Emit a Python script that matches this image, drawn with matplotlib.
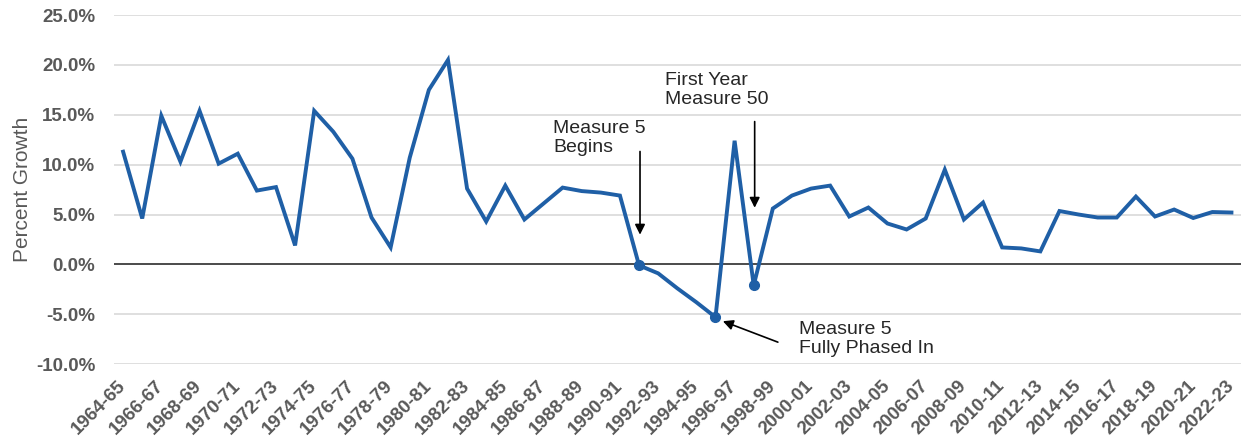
import matplotlib.pyplot as plt

plt.rcParams['font.family'] = ['Liberation Sans', 'DejaVu Sans']

# fiscal years 1964-65 .. 2022-23
years = ["%d-%02d" % (y, (y + 1) % 100) for y in range(1964, 2023)]
growth = [
    11.3, 4.6, 14.9, 10.3, 15.4, 10.1, 11.1, 7.4, 7.75, 1.9,
    15.4, 13.3, 10.6, 4.7, 1.7, 10.7, 17.5, 20.5, 7.6, 4.3,
    7.9, 4.5, 6.1, 7.7, 7.35, 7.2, 6.9, -0.1, -0.9, -2.4,
    -3.8, -5.3, 12.4, -2.1, 5.6, 6.9, 7.6, 7.9, 4.8, 5.7,
    4.1, 3.5, 4.6, 9.5, 4.5, 6.2, 1.7, 1.6, 1.3, 5.35,
    5.0, 4.7, 4.7, 6.8, 4.8, 5.5, 4.65, 5.25, 5.2,
]
marked = ["1991-92", "1995-96", "1997-98"]
yticks = [-10, -5, 0, 5, 10, 15, 20, 25]

blue = '#1F5FA6'
gray = '#595959'

fig = plt.figure(figsize=(12.41, 4.44), dpi=100)
ax = fig.add_axes([0.0915, 0.180, 0.9085, 0.786])

x = list(range(len(years)))
ax.plot(x, growth, color=blue, lw=2.8, solid_joinstyle='miter', zorder=3)
mi = [years.index(m) for m in marked]
ax.plot(mi, [growth[i] for i in mi], 'o', color=blue, ms=7, zorder=4)

ax.set_xlim(-0.5, len(years) - 0.5)
ax.set_ylim(-10, 25)
ax.set_yticks(yticks)
ax.set_yticklabels(["%.1f%%" % v for v in yticks])
ax.set_xticks(x[::2])
ax.set_xticklabels(years[::2], rotation=45, ha='right', va='center',
                   rotation_mode='anchor')
for lab in ax.get_xticklabels() + ax.get_yticklabels():
    lab.set_fontweight('bold')
    lab.set_color(gray)
    lab.set_fontsize(13.5)
ax.tick_params(axis='y', length=0, pad=13)
ax.tick_params(axis='x', length=0, pad=14)

ax.grid(axis='y', color='#D9D9D9', lw=1.2, zorder=0)
ax.axhline(0, color='#404040', lw=1.3, zorder=2)
for s in ax.spines.values():
    s.set_visible(False)

ax.set_ylabel("Percent Growth", color=gray, fontsize=15, labelpad=3)

arrow = dict(arrowstyle='-|>', color='black', lw=1.2, mutation_scale=15)
note = dict(fontsize=14, color='#262626', va='center', ha='left',
            linespacing=1.15)

i = years.index("1991-92")
ax.annotate("", xy=(i + 0.05, 2.7), xytext=(i + 0.05, 11.6), arrowprops=arrow)
ax.text(22.5, 12.7, "Measure 5\nBegins", **note)

i = years.index("1997-98")
ax.annotate("", xy=(i + 0.05, 5.4), xytext=(i + 0.05, 14.6), arrowprops=arrow)
ax.text(28.35, 17.5, "First Year\nMeasure 50", **note)

i = years.index("1995-96")
ax.annotate("", xy=(i + 0.25, -5.6), xytext=(i + 3.4, -7.9), arrowprops=arrow)
ax.text(35.37, -7.5, "Measure 5\nFully Phased In", **note)

fig.savefig("out.png", dpi=100)
